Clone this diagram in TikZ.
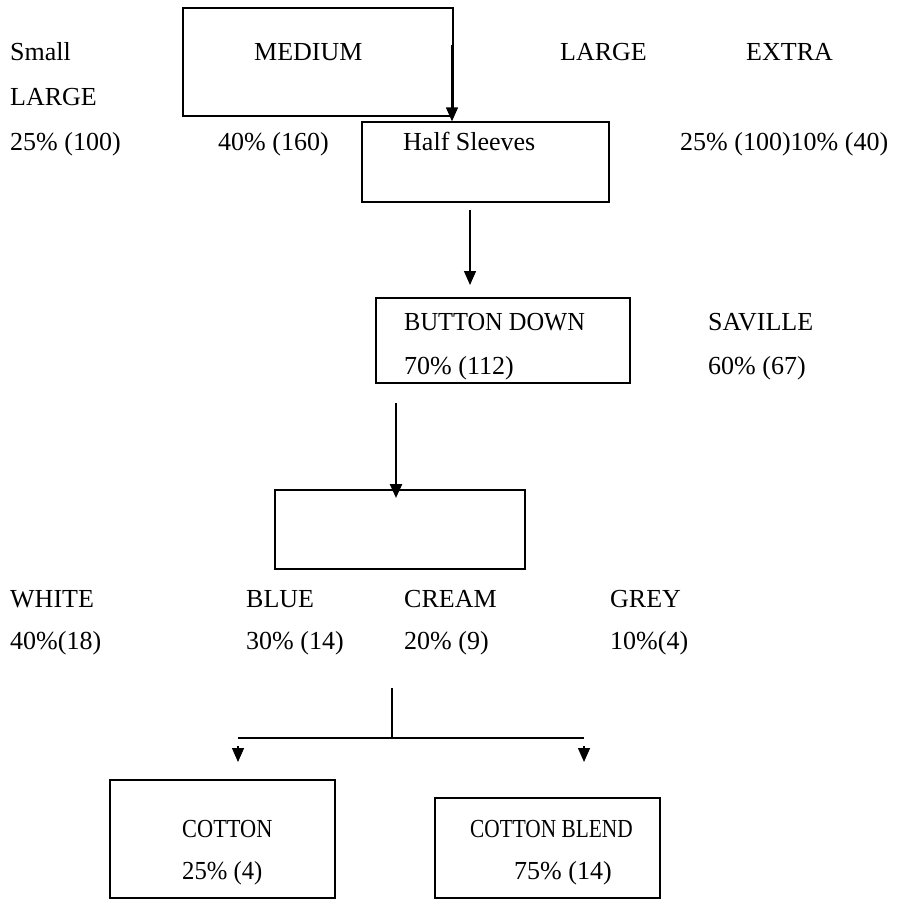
\documentclass[tikz,border=0pt]{standalone}
\usepackage{fontspec}
\setmainfont{Liberation Serif}
\usetikzlibrary{positioning, arrows.meta, calc}

\tikzset{
  box/.style={draw, line width=1.4pt, inner sep=0pt},
  fatbox/.style={draw, line width=2.4pt, inner sep=0pt},
  lbl/.style={anchor=base west, inner sep=0pt},
  arr/.style={-{Triangle[length=14pt, width=12pt]}, line width=1.4pt}
}
\newcommand{\narrow}[2]{\scalebox{#1}[1]{#2}}

\begin{document}
\begin{tikzpicture}[x=1pt, y=-1pt, font=\fontsize{26}{31}\selectfont]
  \useasboundingbox (0,0) rectangle (898,899);

  % boxes
  \node[box, minimum width=270pt, minimum height=108pt] (medium) at (318,62) {};
  \node[box, minimum width=247pt, minimum height=80pt] (half) at (485.5,162) {};
  \node[box, minimum width=254pt, minimum height=85pt] (button) at (503,340.5) {};
  \node[box, minimum width=250pt, minimum height=79pt] (colour) at (400,529.5) {};
  \node[fatbox, minimum width=225pt, minimum height=118pt] (cotton) at (222.5,839) {};
  \node[fatbox, minimum width=225pt, minimum height=100pt] (blend) at (547.5,848) {};

  % sizes
  \node[lbl] (small) at (10,61) {Small};
  \node[lbl] (med) at (254,61) {MEDIUM};
  \node[lbl] (large) at (560,61) {LARGE};
  \node[lbl] (extra) at (746,61) {EXTRA};
  \node[lbl] (large2) at (10,105) {LARGE};
  \node[lbl] (smallp) at (10,150) {25\% (100)};
  \node[lbl] (medp) at (218,150) {40\% (160)};
  \node[lbl] (halft) at (403,150) {Half Sleeves};
  \node[lbl] (largep) at (680,150) {25\% (100)10\% (40)};

  % collar
  \node[lbl] (btn) at (404,330) {\narrow{0.94}{BUTTON DOWN}};
  \node[lbl] (btnp) at (404,374) {70\% (112)};
  \node[lbl] (sav) at (708,330) {SAVILLE};
  \node[lbl] (savp) at (708,374) {60\% (67)};

  % colours
  \node[lbl] (white) at (10,607) {WHITE};
  \node[lbl] (blue) at (246,607) {BLUE};
  \node[lbl] (cream) at (404,607) {CREAM};
  \node[lbl] (grey) at (610,607) {GREY};
  \node[lbl] (whitep) at (10,649) {40\%(18)};
  \node[lbl] (bluep) at (246,649) {30\% (14)};
  \node[lbl] (creamp) at (404,649) {20\% (9)};
  \node[lbl] (greyp) at (610,649) {10\%(4)};

  % fabric
  \node[lbl] (cot) at (182,837) {\narrow{0.86}{COTTON}};
  \node[lbl] (cotp) at (182,879) {\narrow{0.95}{25\% (4)}};
  \node[lbl] (bld) at (470,837) {\narrow{0.82}{COTTON BLEND}};
  \node[lbl] (bldp) at (514,879) {75\% (14)};

  % connectors
  \coordinate (a1) at (452,45);
  \coordinate (a2) at (470,210);
  \coordinate (a2e) at (470,285);
  \coordinate (a3) at (396,403);
  \coordinate (a3e) at (396,498);
  \coordinate (s1) at (392,688);
  \coordinate (s2) at (392,738);
  \coordinate (sl) at (238,738);
  \coordinate (sr) at (584,738);
  \coordinate (tl) at (238,746);
  \coordinate (tle) at (238,762);
  \coordinate (tr) at (584,746);
  \coordinate (tre) at (584,762);

  \draw[arr] (a1) -- (a1 |- half.north);
  \draw[arr] (a2) -- (a2e);
  \draw[arr, line width=2.4pt] (a3) -- (a3e);
  \draw[line width=1.4pt] (s1) -- (s2);
  \draw[line width=1.4pt] (sl) -- (sr);
  \draw[arr] (tl) -- (tle);
  \draw[arr] (tr) -- (tre);
\end{tikzpicture}
\end{document}
